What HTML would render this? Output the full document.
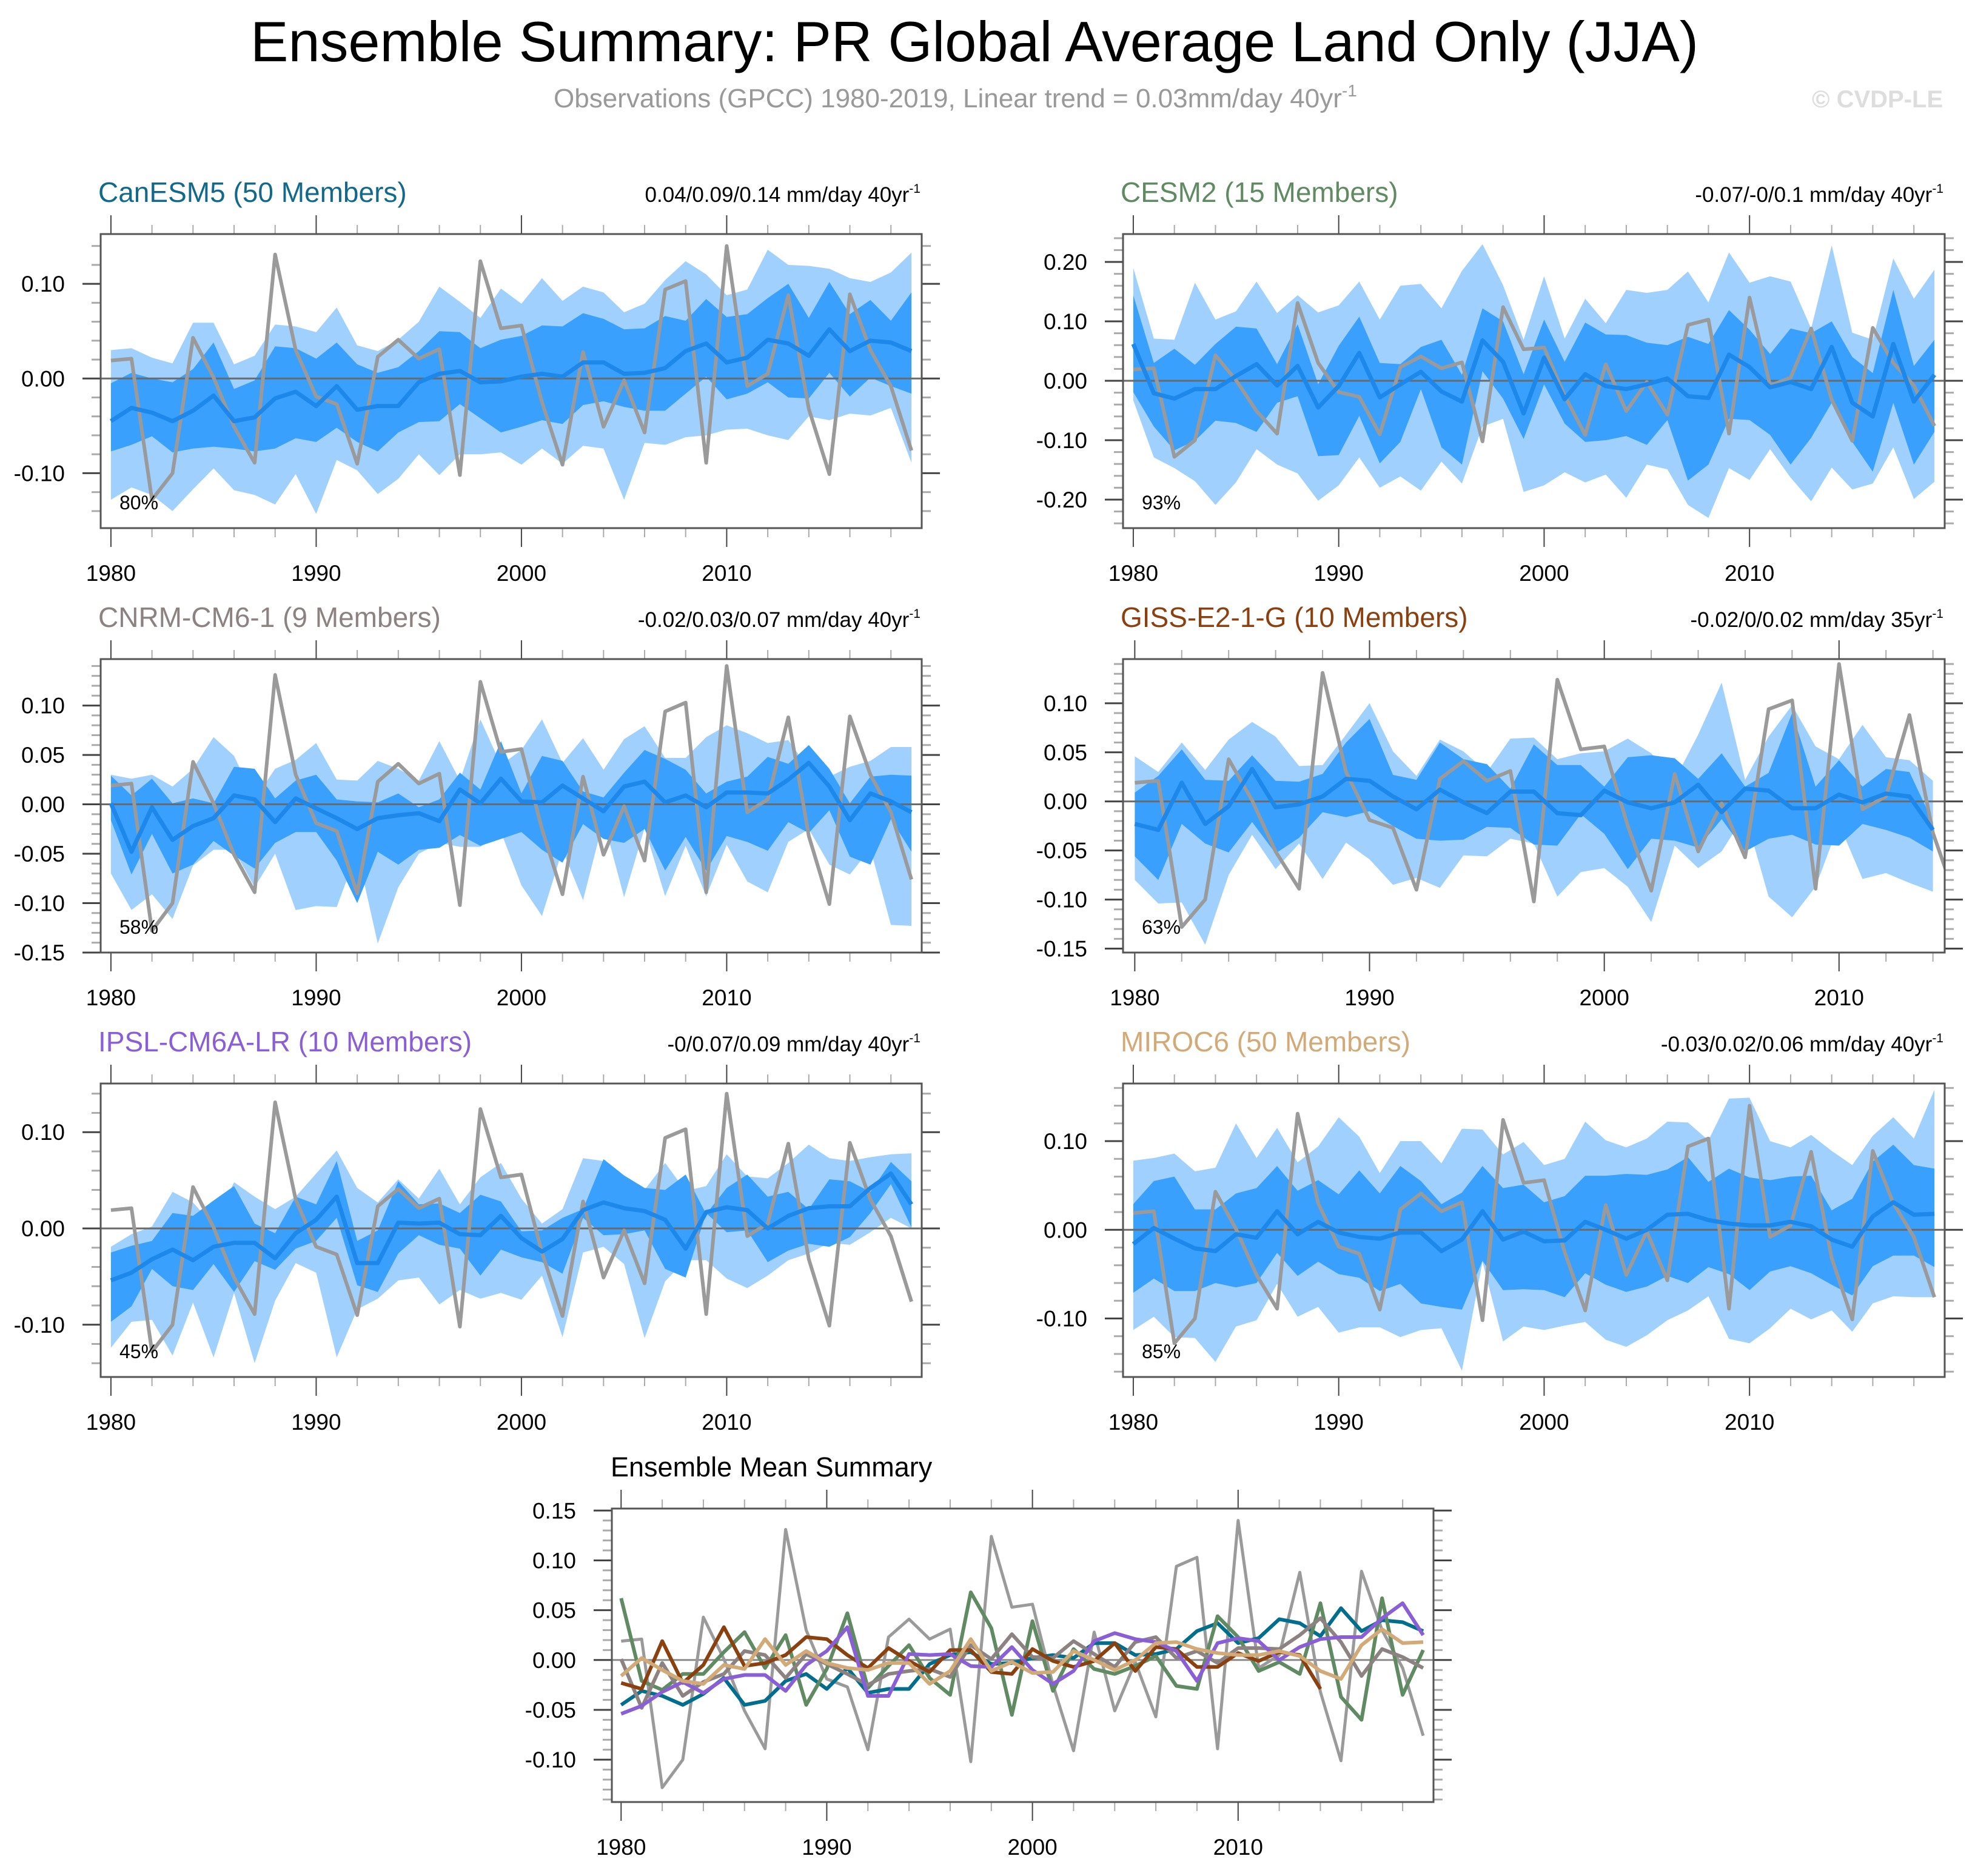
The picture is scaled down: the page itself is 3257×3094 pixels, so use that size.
<!DOCTYPE html>
<html><head><meta charset="utf-8"><style>
html,body{margin:0;padding:0;background:#fff;}
svg{display:block;font-family:"Liberation Sans",Arial,sans-serif;}
</style></head><body>
<svg id="fig" xmlns="http://www.w3.org/2000/svg" width="3257" height="3094" viewBox="0 0 3257 3094">
<rect x="0" y="0" width="3257" height="3094" fill="#fff"/>
<text x="1607" y="101" font-size="94" text-anchor="middle" textLength="2388" lengthAdjust="spacingAndGlyphs" fill="#000">Ensemble Summary: PR Global Average Land Only (JJA)</text>
<text x="913" y="177" font-size="44" fill="#999">Observations (GPCC) 1980-2019, Linear trend = 0.03mm/day 40yr<tspan dy="-18" font-size="28">-1</tspan></text>
<text x="2988" y="177" font-size="40" font-weight="bold" fill="#ddd">© CVDP-LE</text>
<g id="plots"></g>
</svg>
<script>
const years = [1980,1981,1982,1983,1984,1985,1986,1987,1988,1989,1990,1991,1992,1993,1994,1995,1996,1997,1998,1999,2000,2001,2002,2003,2004,2005,2006,2007,2008,2009,2010,2011,2012,2013,2014,2015,2016,2017,2018,2019];
const obs = [0.019,0.021,-0.128,-0.100,0.043,0.001,-0.051,-0.089,0.131,0.030,-0.019,-0.027,-0.090,0.023,0.041,0.021,0.031,-0.102,0.124,0.053,0.056,-0.025,-0.091,0.028,-0.051,-0.002,-0.057,0.094,0.103,-0.089,0.140,-0.008,0.005,0.088,-0.032,-0.101,0.089,0.030,-0.008,-0.076];

const canMean = [-0.045,-0.031,-0.036,-0.045,-0.034,-0.018,-0.045,-0.041,-0.021,-0.014,-0.029,-0.008,-0.033,-0.029,-0.029,-0.004,0.005,0.008,-0.004,-0.003,0.002,0.005,0.002,0.017,0.017,0.005,0.006,0.011,0.029,0.037,0.017,0.022,0.041,0.037,0.024,0.052,0.029,0.040,0.038,0.029];
const canLU = [0.03,0.032,0.022,0.016,0.059,0.059,0.015,0.024,0.057,0.055,0.049,0.075,0.035,0.029,0.041,0.06,0.097,0.081,0.064,0.095,0.079,0.106,0.082,0.097,0.091,0.07,0.079,0.104,0.124,0.11,0.088,0.094,0.136,0.12,0.119,0.116,0.106,0.102,0.112,0.133];
const canDU = [-0.005,0.006,0,-0.004,0.01,0.038,-0.011,-0.002,0.034,0.032,0.021,0.038,0.015,0.006,0.012,0.029,0.05,0.049,0.032,0.041,0.045,0.056,0.055,0.069,0.063,0.052,0.053,0.066,0.061,0.084,0.065,0.068,0.085,0.1,0.064,0.102,0.068,0.083,0.061,0.091];
const canDL = [-0.077,-0.07,-0.061,-0.078,-0.074,-0.072,-0.074,-0.077,-0.074,-0.063,-0.067,-0.052,-0.067,-0.077,-0.057,-0.046,-0.045,-0.027,-0.042,-0.057,-0.051,-0.044,-0.048,-0.028,-0.024,-0.03,-0.034,-0.034,-0.016,0.002,-0.022,-0.016,-0.004,-0.02,-0.021,0.006,-0.019,0.001,-0.008,-0.016];
const canLL = [-0.128,-0.115,-0.123,-0.14,-0.117,-0.095,-0.118,-0.123,-0.133,-0.101,-0.143,-0.086,-0.097,-0.122,-0.106,-0.08,-0.102,-0.08,-0.08,-0.078,-0.091,-0.074,-0.09,-0.071,-0.074,-0.128,-0.068,-0.07,-0.062,-0.06,-0.054,-0.053,-0.06,-0.065,-0.04,-0.044,-0.037,-0.039,-0.031,-0.089];

const cesmMean = [0.062,-0.021,-0.03,-0.014,-0.014,0.008,0.028,-0.008,0.025,-0.045,-0.009,0.047,-0.028,-0.006,0.015,-0.018,-0.035,0.068,0.032,-0.055,0.039,-0.031,0.011,-0.009,-0.014,-0.006,0.004,-0.026,-0.029,0.044,0.023,-0.011,-0.002,-0.014,0.057,-0.037,-0.06,0.062,-0.035,0.01];
const cesmLU = [0.19,0.071,0.069,0.165,0.103,0.117,0.167,0.114,0.144,0.115,0.127,0.167,0.103,0.16,0.163,0.122,0.185,0.23,0.161,0.069,0.176,0.071,0.138,0.097,0.153,0.148,0.153,0.184,0.132,0.216,0.165,0.176,0.167,0.088,0.228,0.081,0.069,0.206,0.138,0.187];
const cesmDU = [0.144,0.03,0.054,0.027,0.062,0.091,0.088,0.028,0.095,-0.006,0.059,0.108,0.03,0.028,0.057,0.069,0.01,0.122,0.1,0.011,0.103,0.032,0.098,0.078,0.077,0.064,0.06,0.074,0.062,0.119,0.086,0.045,0.088,0.08,0.1,0.04,0.013,0.153,0.025,0.069];
const cesmDL = [-0.019,-0.077,-0.117,-0.101,-0.067,-0.071,-0.086,-0.037,-0.026,-0.127,-0.125,-0.059,-0.139,-0.103,-0.014,-0.112,-0.141,0.016,-0.03,-0.098,-0.006,-0.072,-0.103,-0.1,-0.093,-0.108,-0.066,-0.168,-0.141,-0.064,-0.066,-0.091,-0.141,-0.096,-0.037,-0.103,-0.153,-0.037,-0.141,-0.086];
const cesmLL = [-0.033,-0.129,-0.147,-0.169,-0.209,-0.171,-0.115,-0.141,-0.156,-0.202,-0.176,-0.129,-0.18,-0.161,-0.185,-0.136,-0.173,-0.077,-0.064,-0.187,-0.176,-0.154,-0.171,-0.158,-0.197,-0.141,-0.149,-0.209,-0.231,-0.147,-0.167,-0.115,-0.163,-0.203,-0.146,-0.183,-0.173,-0.112,-0.199,-0.17];

const cnrmMean = [0.001,-0.048,-0.003,-0.036,-0.022,-0.014,0.009,0.005,-0.018,0.006,-0.004,-0.014,-0.025,-0.014,-0.011,-0.009,-0.017,0.015,0.001,0.026,0.003,0.002,0.019,0.006,-0.007,0.018,0.023,0.002,0.009,-0.003,0.012,0.012,0.011,0.025,0.042,0.018,-0.016,0.011,0.003,-0.008];
const cnrmLU = [0.030,0.026,0.030,0.018,0.036,0.068,0.049,0.005,0.036,0.045,0.062,0.025,0.024,0.044,0.036,0.024,0.064,0.024,0.086,0.04,0.055,0.086,0.042,0.067,0.035,0.066,0.079,0.047,0.047,0.068,0.08,0.072,0.062,0.065,0.036,0.028,0.038,0.044,0.058,0.058];
const cnrmDU = [0.029,0.009,0.026,0.001,0.006,0.001,0.038,0.036,0.006,0.024,0.03,0.005,0.003,0.002,0.011,-0.003,0.005,0.032,0.015,0.064,0.011,0.049,0.044,0.013,0.007,0.032,0.055,0.046,0.035,0.011,0.023,0.028,0.048,0.041,0.06,0.036,0.001,0.028,0.03,0.029];
const cnrmDL = [-0.016,-0.071,-0.03,-0.07,-0.061,-0.037,-0.052,-0.065,-0.039,-0.028,-0.028,-0.057,-0.1,-0.048,-0.061,-0.046,-0.044,-0.031,-0.042,-0.035,-0.028,-0.046,-0.059,-0.020,-0.035,-0.039,-0.025,-0.067,-0.033,-0.067,-0.032,-0.038,-0.047,-0.018,-0.029,-0.006,-0.053,-0.061,-0.015,-0.048];
const cnrmLL = [-0.07,-0.107,-0.091,-0.116,-0.062,-0.046,-0.046,-0.084,-0.05,-0.107,-0.103,-0.104,-0.048,-0.141,-0.084,-0.05,-0.039,-0.043,-0.043,-0.028,-0.082,-0.113,-0.046,-0.097,-0.016,-0.094,-0.024,-0.093,-0.042,-0.093,-0.041,-0.078,-0.089,-0.038,-0.025,-0.061,-0.071,-0.045,-0.122,-0.123];

const gissMean = [-0.023,-0.029,0.019,-0.023,-0.005,0.033,-0.006,-0.003,0.005,0.023,0.021,0.005,-0.008,0.012,-0.001,-0.012,0.01,0.01,-0.012,-0.014,0.011,-0.001,-0.007,-0.001,0.017,-0.011,0.013,0.011,-0.007,-0.007,0.007,-0.001,0.008,0.005,-0.029];
const gissLU = [0.046,0.03,0.06,0.032,0.063,0.081,0.066,0.036,0.037,0.068,0.1,0.051,0.026,0.063,0.051,0.03,0.064,0.065,0.043,0.049,0.051,0.064,0.049,0.022,0.068,0.121,0.022,0.066,0.098,0.056,0.043,0.078,0.045,0.042,0.021];
const gissDU = [0.009,0.026,0.053,0.022,0.021,0.047,0.021,0.02,0.028,0.06,0.084,0.027,0.022,0.06,0.043,0.038,0.013,0.058,0.037,0.037,0.015,0.045,0.047,0.044,0.023,0.049,0.015,0.029,0.09,0.015,0.042,0.015,0.033,0.03,-0.021];
const gissDL = [-0.056,-0.08,-0.023,-0.043,-0.052,-0.021,-0.053,-0.037,-0.011,-0.016,-0.01,-0.025,-0.038,-0.04,-0.039,-0.026,-0.027,-0.044,-0.045,-0.013,-0.033,-0.069,-0.038,-0.04,-0.047,-0.018,-0.051,-0.038,-0.034,-0.044,-0.045,-0.023,-0.029,-0.037,-0.051];
const gissLL = [-0.08,-0.104,-0.103,-0.146,-0.075,-0.034,-0.069,-0.043,-0.079,-0.042,-0.059,-0.085,-0.078,-0.088,-0.055,-0.056,-0.038,-0.043,-0.097,-0.072,-0.068,-0.087,-0.123,-0.045,-0.068,-0.051,-0.013,-0.097,-0.118,-0.087,-0.023,-0.079,-0.073,-0.083,-0.092];

const ipslMean = [-0.054,-0.046,-0.032,-0.022,-0.033,-0.019,-0.015,-0.015,-0.031,-0.005,0.009,0.033,-0.036,-0.036,0.006,0.005,0.006,-0.006,-0.007,0.013,-0.01,-0.024,-0.011,0.019,0.027,0.021,0.018,0.009,-0.021,0.017,0.022,0.019,0,0.013,0.021,0.023,0.023,0.042,0.057,0.025];
const ipslLU = [-0.019,-0.006,0.002,0.038,0.027,0.003,0.048,0.033,0.02,0.033,0.057,0.081,0.042,0.027,0.051,0.031,0.062,0.025,0.053,0.068,0.031,0.005,0.02,0.073,0.07,0.048,0.04,0.068,0.039,0.044,0.077,0.054,0.052,0.068,0.087,0.073,0.07,0.074,0.077,0.078];
const ipslDU = [-0.025,-0.018,-0.013,0.016,0.013,0.029,0.044,0.005,-0.005,0.033,0.025,0.07,-0.013,-0.002,0.049,0.025,0.026,0.016,0.035,0.028,-0.003,-0.002,0.011,0.02,0.072,0.055,0.042,0.04,0.056,0.015,0.042,0.056,0.033,0.038,0.02,0.051,0.049,0.038,0.069,0.049];
const ipslDL = [-0.097,-0.081,-0.042,-0.06,-0.064,-0.037,-0.066,-0.034,-0.043,-0.021,-0.013,0.011,-0.059,-0.066,-0.026,-0.007,-0.017,-0.021,-0.049,-0.022,-0.03,-0.035,-0.047,0.011,-0.007,-0.006,-0.002,-0.042,-0.051,0.016,-0.004,-0.002,-0.035,-0.023,-0.016,-0.019,-0.009,0.016,0.046,0.001];
const ipslLL = [-0.124,-0.097,-0.095,-0.132,-0.077,-0.134,-0.067,-0.14,-0.075,-0.036,-0.046,-0.134,-0.084,-0.073,-0.054,-0.051,-0.079,-0.064,-0.073,-0.067,-0.074,-0.049,-0.113,-0.025,-0.019,-0.037,-0.114,-0.055,-0.033,-0.033,-0.052,-0.062,-0.049,-0.033,-0.026,-0.015,-0.017,-0.004,0.011,0];

const mirocMean = [-0.016,0.002,-0.01,-0.021,-0.024,-0.005,-0.009,0.021,-0.005,0.009,-0.003,-0.008,-0.01,-0.003,-0.003,-0.024,-0.011,0.021,-0.011,-0.002,-0.013,-0.012,0.009,0,-0.01,0,0.017,0.018,0.011,0.007,0.005,0.005,0.009,0.004,-0.011,-0.019,0.015,0.031,0.017,0.018];
const mirocLU = [0.078,0.081,0.086,0.066,0.07,0.12,0.081,0.115,0.076,0.094,0.127,0.105,0.064,0.1,0.1,0.075,0.114,0.113,0.085,0.099,0.073,0.08,0.122,0.101,0.093,0.103,0.122,0.121,0.101,0.148,0.149,0.1,0.093,0.107,0.089,0.073,0.106,0.127,0.103,0.158];
const mirocDU = [0.029,0.055,0.06,0.023,0.023,0.041,0.047,0.072,0.044,0.056,0.04,0.067,0.041,0.072,0.055,0.029,0.042,0.072,0.047,0.051,0.031,0.038,0.061,0.061,0.063,0.062,0.068,0.082,0.054,0.069,0.059,0.056,0.06,0.061,0.022,0.035,0.077,0.096,0.073,0.069];
const mirocDL = [-0.071,-0.055,-0.069,-0.069,-0.06,-0.065,-0.06,-0.026,-0.052,-0.036,-0.05,-0.054,-0.069,-0.061,-0.083,-0.087,-0.09,-0.035,-0.068,-0.067,-0.068,-0.076,-0.049,-0.062,-0.07,-0.064,-0.052,-0.06,-0.042,-0.05,-0.068,-0.047,-0.041,-0.049,-0.062,-0.074,-0.041,-0.029,-0.029,-0.042];
const mirocLL = [-0.113,-0.098,-0.121,-0.122,-0.149,-0.109,-0.102,-0.061,-0.098,-0.087,-0.116,-0.11,-0.11,-0.121,-0.113,-0.111,-0.159,-0.036,-0.126,-0.109,-0.113,-0.108,-0.104,-0.124,-0.132,-0.119,-0.102,-0.091,-0.075,-0.123,-0.128,-0.111,-0.089,-0.101,-0.091,-0.115,-0.083,-0.075,-0.076,-0.076];

const yTickLabelsA = ["0.10","0.00","-0.10"];
const yTickValsA = [0.1,0,-0.1];
const yTickLabelsB = ["0.20","0.10","0.00","-0.10","-0.20"];
const yTickValsB = [0.2,0.1,0,-0.1,-0.2];
const yTickLabelsC = ["0.10","0.05","0.00","-0.05","-0.10","-0.15"];
const yTickValsC = [0.1,0.05,0,-0.05,-0.1,-0.15];
const yTickLabelsD = ["0.15","0.10","0.05","0.00","-0.05","-0.10"];
const yTickValsD = [0.15,0.1,0.05,0,-0.05,-0.1];
const xTickYears = [1980,1990,2000,2010];

const NS = "http://www.w3.org/2000/svg";
const root = document.getElementById("plots");
function mk(tag, attrs, parent){
  const e = document.createElementNS(NS, tag);
  for (const k in attrs) e.setAttribute(k, attrs[k]);
  (parent||root).appendChild(e);
  return e;
}
let clipId = 0;

function drawFrame(p, g){
  const sx = v => p.x0 + (v - p.xmin) / (p.xmax - p.xmin) * (p.x1 - p.x0);
  const sy = v => p.y0 + (p.ymax - v) / (p.ymax - p.ymin) * (p.y1 - p.y0);
  const start = Math.ceil(p.ymin / p.minor - 1e-6);
  const end = Math.floor(p.ymax / p.minor + 1e-6);
  for (let i = start; i <= end; i++){
    const v = i * p.minor, y = sy(v);
    const major = p.tickVals.some(t => Math.abs(t - v) < 1e-6);
    const L = major ? 30 : 15;
    const c = major ? "#444" : "#aaa";
    const t1 = mk("line",{x1:p.x0-L,y1:y,x2:p.x0,y2:y,stroke:c,"stroke-width":3},g);
    
    
    const t2 = mk("line",{x1:p.x1,y1:y,x2:p.x1+L,y2:y,stroke:c,"stroke-width":3},g);
    
    
  }
  p.tickVals.forEach((v,i) => {
    const t = mk("text",{x:p.x0-59,y:sy(v)+13,"font-size":37,"text-anchor":"end",fill:"#000"},g);
    
    
    t.textContent = p.tickLabels[i];
  });
  for (let yr = 1980; yr <= p.xmax; yr += 2){
    const x = sx(yr);
    const major = (yr % 10 === 0);
    const L = major ? 31 : 15;
    const c = major ? "#444" : "#aaa";
    const a = mk("line",{x1:x,y1:p.y0-L,x2:x,y2:p.y0,stroke:c,"stroke-width":2},g);
    
    
    const b = mk("line",{x1:x,y1:p.y1,x2:x,y2:p.y1+L,stroke:c,"stroke-width":2},g);
    
    
  }
  xTickYears.forEach(yr => {
    const t = mk("text",{x:sx(yr),y:p.y1+87,"font-size":37,"text-anchor":"middle",fill:"#000"},g);
    
    
    t.textContent = String(yr);
  });
  return {sx, sy};
}

function linePath(xs, vals, sx, sy){
  return vals.map((v,i) => (i ? "L" : "M") + sx(xs[i]).toFixed(1) + "," + sy(v).toFixed(1)).join(" ");
}
function bandPath(xs, up, lo, sx, sy){
  let d = up.map((v,i) => (i ? "L" : "M") + sx(xs[i]).toFixed(1) + "," + sy(v).toFixed(1)).join(" ");
  for (let i = lo.length - 1; i >= 0; i--) d += " L" + sx(xs[i]).toFixed(1) + "," + sy(lo[i]).toFixed(1);
  return d + " Z";
}

function drawPanel(p){
  const g = mk("g",{});
  
  
  const {sx, sy} = drawFrame(p, g);
  const id = "clip" + (clipId++);
  const cp = mk("clipPath",{id:id},g);
  mk("rect",{x:p.x0,y:p.y0,width:p.x1-p.x0,height:p.y1-p.y0},cp);
  const pg = mk("g",{"clip-path":"url(#"+id+")"},g);
  const n = p.mean.length;
  const xs = years.slice(0, n);
  const lb = mk("path",{d:bandPath(xs,p.lu,p.ll,sx,sy),fill:"#a0d0fe"},pg);
  
  
  const db = mk("path",{d:bandPath(xs,p.du,p.dl,sx,sy),fill:"#39a0fe"},pg);
  
  
  const z = mk("line",{x1:p.x0,y1:sy(0),x2:p.x1,y2:sy(0),stroke:"#6a6a6a","stroke-width":3},pg);
  
  
  const o = mk("path",{d:linePath(years,obs,sx,sy),fill:"none",stroke:"#9a9a9a","stroke-width":6,"stroke-linejoin":"round"},pg);
  
  
  const m = mk("path",{d:linePath(xs,p.mean,sx,sy),fill:"none",stroke:"#1e88ea","stroke-width":7,"stroke-linejoin":"round"},pg);
  
  
  const box = mk("rect",{x:p.x0,y:p.y0,width:p.x1-p.x0,height:p.y1-p.y0,fill:"none",stroke:"#555","stroke-width":3},g);
  
  
  const t = mk("text",{x:p.x0-4,y:p.y0-53,"font-size":46,fill:p.color},g);
  
  
  t.textContent = p.title;
  const r = mk("text",{x:p.x1-2,y:p.y0-53,"font-size":35,"text-anchor":"end",fill:"#000"},g);
  
  
  r.textContent = p.trend;
  const sup = mk("tspan",{dy:-15,"font-size":21},r);
  sup.textContent = "-1";
  const pc = mk("text",{x:p.x0+31,y:p.y1-31,"font-size":32,fill:"#000"},g);
  
  
  pc.textContent = p.pct;
}

const L0 = 166, L1 = 1520, R0 = 1852, R1 = 3207;
drawPanel({name:"canesm5",title:"CanESM5 (50 Members)",color:"#12698c",trend:"0.04/0.09/0.14 mm/day 40yr",pct:"80%",
  x0:L0,x1:L1,y0:386,y1:871,xmin:1979.5,xmax:2019.5,ymin:-0.158,ymax:0.1526,minor:0.02,
  tickVals:yTickValsA,tickLabels:yTickLabelsA,mean:canMean,lu:canLU,du:canDU,dl:canDL,ll:canLL});
drawPanel({name:"cesm2",title:"CESM2 (15 Members)",color:"#5f8a62",trend:"-0.07/-0/0.1 mm/day 40yr",pct:"93%",
  x0:R0,x1:R1,y0:386,y1:871,xmin:1979.5,xmax:2019.5,ymin:-0.248,ymax:0.247,minor:0.02,
  tickVals:yTickValsB,tickLabels:yTickLabelsB,mean:cesmMean,lu:cesmLU,du:cesmDU,dl:cesmDL,ll:cesmLL});
drawPanel({name:"cnrm-cm6-1",title:"CNRM-CM6-1 (9 Members)",color:"#8c8282",trend:"-0.02/0.03/0.07 mm/day 40yr",pct:"58%",
  x0:L0,x1:L1,y0:1087,y1:1571,xmin:1979.5,xmax:2019.5,ymin:-0.150,ymax:0.147,minor:0.01,
  tickVals:yTickValsC,tickLabels:yTickLabelsC,mean:cnrmMean,lu:cnrmLU,du:cnrmDU,dl:cnrmDL,ll:cnrmLL});
drawPanel({name:"giss-e2-1-g",title:"GISS-E2-1-G (10 Members)",color:"#8b4010",trend:"-0.02/0/0.02 mm/day 35yr",pct:"63%",
  x0:R0,x1:R1,y0:1087,y1:1571,xmin:1979.5,xmax:2014.5,ymin:-0.154,ymax:0.145,minor:0.01,
  tickVals:yTickValsC,tickLabels:yTickLabelsC,mean:gissMean,lu:gissLU,du:gissDU,dl:gissDL,ll:gissLL});
drawPanel({name:"ipsl-cm6a-lr",title:"IPSL-CM6A-LR (10 Members)",color:"#8a5fd6",trend:"-0/0.07/0.09 mm/day 40yr",pct:"45%",
  x0:L0,x1:L1,y0:1787,y1:2271,xmin:1979.5,xmax:2019.5,ymin:-0.1543,ymax:0.1505,minor:0.02,
  tickVals:yTickValsA,tickLabels:yTickLabelsA,mean:ipslMean,lu:ipslLU,du:ipslDU,dl:ipslDL,ll:ipslLL});
drawPanel({name:"miroc6",title:"MIROC6 (50 Members)",color:"#d2aa78",trend:"-0.03/0.02/0.06 mm/day 40yr",pct:"85%",
  x0:R0,x1:R1,y0:1787,y1:2271,xmin:1979.5,xmax:2019.5,ymin:-0.166,ymax:0.165,minor:0.02,
  tickVals:yTickValsA,tickLabels:yTickLabelsA,mean:mirocMean,lu:mirocLU,du:mirocDU,dl:mirocDL,ll:mirocLL});

(function(){
  const p = {x0:1009,x1:2364,y0:2488,y1:2972,xmin:1979.55,xmax:2019.5,ymin:-0.1425,ymax:0.152,minor:0.01,
    tickVals:yTickValsD,tickLabels:yTickLabelsD};
  const g = mk("g",{});
  
  
  const {sx, sy} = drawFrame(p, g);
  const cp = mk("clipPath",{id:"clipSum"},g);
  mk("rect",{x:p.x0,y:p.y0,width:p.x1-p.x0,height:p.y1-p.y0},cp);
  const pg = mk("g",{"clip-path":"url(#clipSum)"},g);
  const z = mk("line",{x1:p.x0,y1:sy(0),x2:p.x1,y2:sy(0),stroke:"#8a8a8a","stroke-width":3},pg);
  
  
  const o = mk("path",{d:linePath(years,obs,sx,sy),fill:"none",stroke:"#9a9a9a","stroke-width":5,"stroke-linejoin":"round"},pg);
  
  
  const series = [
    ["canesm5-mean-line", canMean, "#006e8c"],
    ["cesm2-mean-line", cesmMean, "#5f8a62"],
    ["cnrm-mean-line", cnrmMean, "#8c8282"],
    ["giss-mean-line", gissMean, "#8b4010"],
    ["ipsl-mean-line", ipslMean, "#8a5fd6"],
    ["miroc6-mean-line", mirocMean, "#d2aa78"]
  ];
  series.forEach(s => {
    const path = mk("path",{d:linePath(years.slice(0,s[1].length),s[1],sx,sy),fill:"none",stroke:s[2],"stroke-width":6,"stroke-linejoin":"round"},pg);
    
    
  });
  const box = mk("rect",{x:p.x0,y:p.y0,width:p.x1-p.x0,height:p.y1-p.y0,fill:"none",stroke:"#555","stroke-width":3},g);
  
  
  const t = mk("text",{x:1007,y:2435,"font-size":45,fill:"#000"},g);
  
  
  t.textContent = "Ensemble Mean Summary";
})();
</script>
</body></html>
